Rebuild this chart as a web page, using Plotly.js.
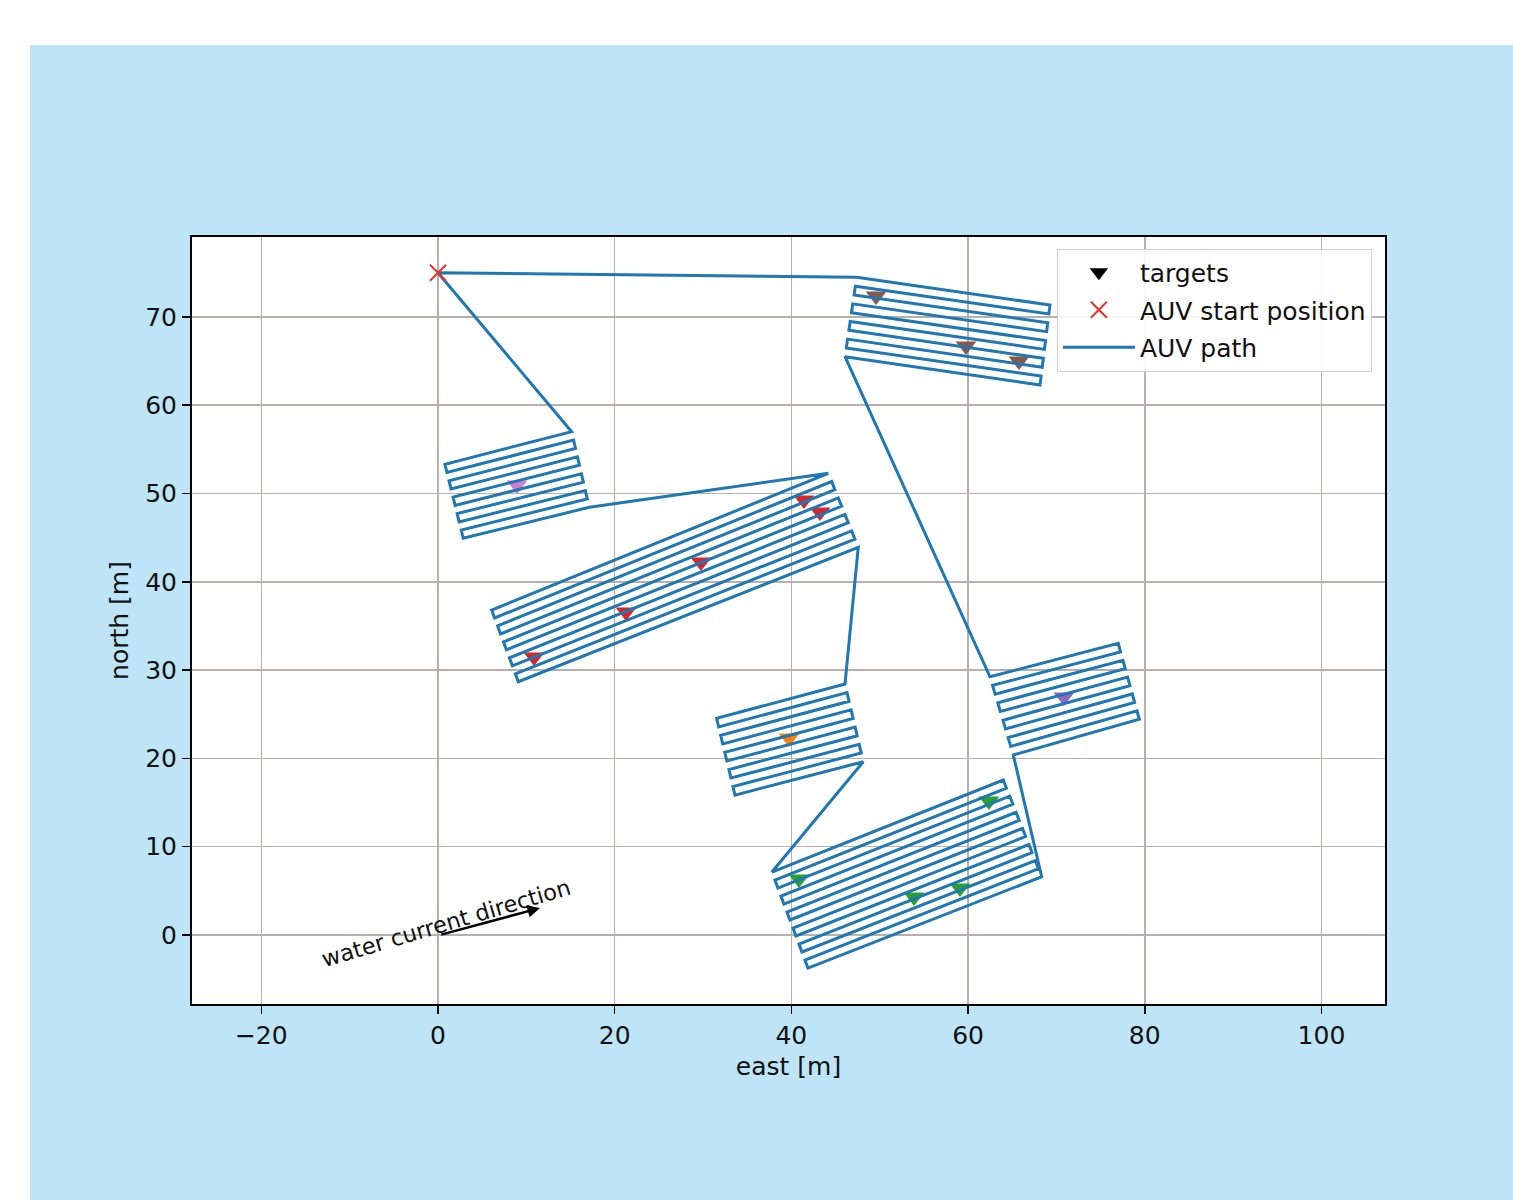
<!DOCTYPE html>
<html>
<head>
<meta charset="utf-8">
<script src="https://cdn.plot.ly/plotly-3.0.1.min.js"></script>
<style>
  html, body { margin:0; padding:0; background:#ffffff; }
  #wrap { position:absolute; left:30px; top:45px; width:1483px; height:1155px; }
</style>
</head>
<body>
<div id="wrap"></div>
<script>
// ---------- data (east / north in metres) ----------
const startX = [0];
const startY = [75];

// survey area A (pink target)
const areaA_x = [15.13, 0.79, 1.02, 15.35, 15.57, 1.25, 1.48, 15.79, 16.01, 1.71, 1.94, 16.24, 16.46, 2.17, 2.40, 16.68, 16.90, 2.63, 2.86, 17.12];
const areaA_y = [57.00, 53.31, 52.38, 56.05, 55.10, 51.45, 50.52, 54.15, 53.20, 49.59, 48.66, 52.24, 51.29, 47.72, 46.79, 50.34, 49.39, 45.86, 44.93, 48.44];
// survey area B (red targets)
const areaB_x = [44.18, 6.08, 6.41, 44.56, 44.93, 6.75, 7.08, 45.31, 45.69, 7.42, 7.75, 46.06, 46.44, 8.09, 8.42, 46.82, 47.19, 8.76, 9.09, 47.57];
const areaB_y = [52.29, 36.81, 35.91, 51.36, 50.43, 35.01, 34.10, 49.50, 48.57, 33.20, 32.30, 47.63, 46.70, 31.40, 30.49, 45.77, 44.84, 29.59, 28.69, 43.91];
// survey area C (orange target)
const areaC_x = [46.07, 31.54, 31.77, 46.30, 46.53, 32.00, 32.23, 46.76, 46.99, 32.46, 32.70, 47.22, 47.45, 32.93, 33.16, 47.68, 47.91, 33.39, 33.62, 48.14];
const areaC_y = [28.43, 24.54, 23.57, 27.45, 26.47, 22.61, 21.64, 25.50, 24.52, 20.68, 19.71, 23.54, 22.56, 18.75, 17.78, 21.59, 20.61, 16.82, 15.85, 19.63];
// survey area D (green targets)
const areaD_x = [37.80, 63.98, 64.34, 38.14, 38.48, 64.71, 65.07, 38.82, 39.16, 65.43, 65.79, 39.50, 39.84, 66.16, 66.52, 40.18, 40.52, 66.88, 67.24, 40.86, 41.20, 67.61, 67.97, 41.54, 41.88, 68.33];
const areaD_y = [7.13, 17.55, 16.64, 6.22, 5.32, 15.73, 14.81, 4.41, 3.51, 13.90, 12.99, 2.60, 1.70, 12.08, 11.16, 0.79, -0.11, 10.25, 9.34, -1.02, -1.92, 8.43, 7.51, -2.83, -3.74, 6.60];
// survey area E (purple target)
const areaE_x = [65.12, 79.38, 79.12, 64.83, 64.53, 78.85, 78.59, 64.24, 63.95, 78.32, 78.06, 63.65, 63.36, 77.79, 77.53, 63.07, 62.77, 77.26, 77.00, 62.48];
const areaE_y = [20.39, 24.43, 25.39, 21.37, 22.36, 26.34, 27.30, 23.34, 24.33, 28.25, 29.21, 25.31, 26.30, 30.16, 31.12, 27.28, 28.27, 32.07, 33.03, 29.25];
// survey area F (brown targets)
const areaF_x = [46.07, 68.14, 68.27, 46.22, 46.36, 68.39, 68.52, 46.51, 46.66, 68.64, 68.77, 46.80, 46.95, 68.89, 69.02, 47.10, 47.24, 69.14, 69.27, 47.39];
const areaF_y = [65.49, 62.29, 63.30, 66.49, 67.49, 64.30, 65.31, 68.49, 69.49, 66.32, 67.32, 70.48, 71.48, 68.33, 69.34, 72.48, 73.48, 70.34, 71.35, 74.48];

// targets
const tgtPink_x = [8.94];            const tgtPink_y = [50.96];
const tgtRed_x = [10.87, 21.28, 29.77, 41.43, 43.24];
const tgtRed_y = [31.48, 36.58, 42.24, 49.26, 47.90];
const tgtOrange_x = [39.73];         const tgtOrange_y = [22.31];
const tgtGreen_x = [40.86, 53.88, 59.08, 62.37];
const tgtGreen_y = [6.34, 4.30, 5.32, 15.18];
const tgtPurple_x = [70.85];         const tgtPurple_y = [26.95];
const tgtBrown_x = [49.58, 59.76, 65.76];
const tgtBrown_y = [72.37, 66.70, 65.00];

const xTicks = [-20, 0, 20, 40, 60, 80, 100];
const xTickText = ['\u221220', '0', '20', '40', '60', '80', '100'];
const yTicks = [0, 10, 20, 30, 40, 50, 60, 70];
const yTickText = ['0', '10', '20', '30', '40', '50', '60', '70'];

// ---------- build the path ----------
const pathX = [].concat(startX, areaA_x, areaB_x, areaC_x, areaD_x, areaE_x, areaF_x, startX);
const pathY = [].concat(startY, areaA_y, areaB_y, areaC_y, areaD_y, areaE_y, areaF_y, startY);

function tgt(x, y, color) {
  return { x: x, y: y, type: 'scatter', mode: 'markers', showlegend: false, hoverinfo: 'skip',
           marker: { symbol: 'triangle-down', size: 18, color: color } };
}

const traces = [
  tgt(tgtPink_x, tgtPink_y, '#d17ccc'),
  tgt(tgtRed_x, tgtRed_y, '#d62728'),
  tgt(tgtOrange_x, tgtOrange_y, '#ff7f0e'),
  tgt(tgtGreen_x, tgtGreen_y, '#2ca02c'),
  tgt(tgtPurple_x, tgtPurple_y, '#9467bd'),
  tgt(tgtBrown_x, tgtBrown_y, '#8c564b'),
  { x: [null], y: [null], type: 'scatter', mode: 'markers', name: 'targets', legendrank: 1, legendgroup: 'g1',
    marker: { symbol: 'triangle-down', size: 18, color: '#000000' } },
  { x: pathX, y: pathY, type: 'scatter', mode: 'lines', name: 'AUV path', legendrank: 3, legendgroup: 'g3',
    line: { color: '#1f77b4', width: 3 } },
  { x: startX, y: startY, type: 'scatter', mode: 'markers', name: 'AUV start position', legendrank: 2, legendgroup: 'g2',
    marker: { symbol: 'x-thin', size: 16, color: '#e8312a', line: { color: '#e8312a', width: 2 } } }
];

const axisCommon = {
  showgrid: true, gridcolor: '#b9b0ae', gridwidth: 1.5,
  zeroline: false, showline: true, linecolor: '#000000', linewidth: 2, mirror: true,
  ticks: 'outside', ticklen: 8, tickwidth: 1.5, tickcolor: '#000000',
  ticklabelstandoff: 0,
  tickfont: { size: 25, color: '#111111' }
};

const layout = {
  width: 1483, height: 1155,
  paper_bgcolor: '#bee5f7', plot_bgcolor: '#ffffff',
  margin: { l: 162, r: 128, t: 192, b: 196 },
  font: { family: 'DejaVu Sans', size: 25, color: '#111111' },
  showlegend: true,
  xaxis: Object.assign({}, axisCommon, {
    range: [-27.84, 107.19], tickvals: xTicks, ticktext: xTickText,
    title: { text: 'east [m]', standoff: 8, font: { size: 25 } }
  }),
  yaxis: Object.assign({}, axisCommon, {
    range: [-7.81, 79.05], tickvals: yTicks, ticktext: yTickText,
    title: { text: 'north [m]', standoff: 9, font: { size: 25 } }
  }),
  legend: {
    x: 0.989, y: 0.985, xanchor: 'right', yanchor: 'top',
    bgcolor: 'rgba(255,255,255,0.9)', bordercolor: '#d0d0d0', borderwidth: 1,
    font: { size: 25, color: '#111111' }, traceorder: 'grouped', tracegroupgap: 2, itemwidth: 72
  },
  annotations: [
    { x: 0.9, y: 1.36, xref: 'x', yref: 'y', text: 'water current direction', textangle: -16.5,
      showarrow: false, font: { size: 22.5, color: '#111111' } },
    { x: 11.55, y: 3.06, ax: 0.2, ay: 0.0, xref: 'x', yref: 'y', axref: 'x', ayref: 'y',
      text: '', showarrow: true, arrowhead: 2, arrowsize: 1, arrowwidth: 2.5, arrowcolor: '#000000' }
  ]
};

Plotly.newPlot('wrap', traces, layout, { displayModeBar: false, staticPlot: true });
</script>
</body>
</html>
